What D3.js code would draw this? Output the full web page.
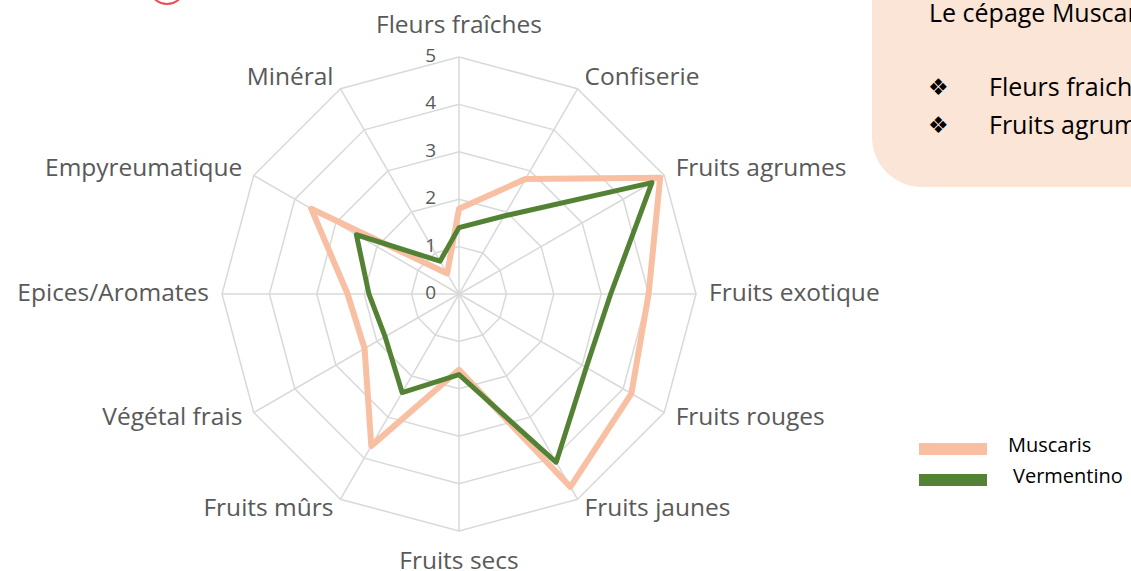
<!DOCTYPE html>
<html><head><meta charset="utf-8">
<script src="https://cdn.jsdelivr.net/npm/d3@7"></script>
<style>html,body{margin:0;padding:0;background:#fff;overflow:hidden}</style>
</head><body>
<svg id="chart" width="1131" height="571"></svg>
<script>
const axesLabels = ["Fleurs fraîches","Confiserie","Fruits agrumes","Fruits exotique","Fruits rouges","Fruits jaunes","Fruits secs","Fruits mûrs","Végétal frais","Epices/Aromates","Empyreumatique","Minéral"];
const muscaris   = [1.8, 2.8, 4.9, 4.0, 4.2, 4.7, 1.6, 3.7, 2.3, 2.35, 3.6, 0.5];
const vermentino = [1.4, 1.9, 4.7, 3.2, 3.1, 4.1, 1.7, 2.4, 1.8, 1.9, 2.5, 0.8];
const ticks = [0,1,2,3,4,5];
const seriesNames = ["Muscaris","Vermentino"];
const noteTitle = "Le cépage Muscaris";
const noteBullets = ["Fleurs fraiches","Fruits agrumes"];

const svg = d3.select("#chart");
const cx = 459, cy = 294, R = 237;
const r = d3.scaleLinear().domain([0,5]).range([0,R]);
const ang = d3.scalePoint().domain(axesLabels).range([0, 2*Math.PI*(11/12)]);
const pt = (a, v) => [cx + r(v)*Math.sin(a), cy - r(v)*Math.cos(a)];

// note box
svg.append("path")
  .attr("d", `M872,-10 L1140,-10 L1140,187 L922,187 A50,50 0 0 1 872,137 Z`)
  .attr("fill", "#fbe5d6");
svg.append("text").attr("x", 929).attr("y", 22).attr("font-family","Open Sans, sans-serif")
  .attr("font-size", 25).attr("fill","#000").text(noteTitle);
noteBullets.forEach((b,i) => {
  const y = 96 + i*38;
  svg.append("text").attr("x", 928).attr("y", y - 1).attr("font-family","DejaVu Sans, sans-serif")
    .attr("font-size", 23).attr("fill","#000").text("❖");
  svg.append("text").attr("x", 989).attr("y", y).attr("font-family","Open Sans, sans-serif")
    .attr("font-size", 25).attr("fill","#000").text(b);
});

// red circle fragment
svg.append("circle").attr("cx", 167).attr("cy", -14).attr("r", 18)
  .attr("fill","none").attr("stroke","#e8505b").attr("stroke-width",2);

// grid
const g = svg.append("g");
ticks.slice(1).forEach(t => {
  g.append("polygon")
    .attr("points", axesLabels.map(l => pt(ang(l), t).join(",")).join(" "))
    .attr("fill","none").attr("stroke","#d9d9d9").attr("stroke-width",1.5);
});
axesLabels.forEach(l => {
  const [x,y] = pt(ang(l), 5);
  g.append("line").attr("x1",cx).attr("y1",cy).attr("x2",x).attr("y2",y)
    .attr("stroke","#d9d9d9").attr("stroke-width",1.5);
});

// tick labels
ticks.forEach(t => {
  svg.append("text").attr("x", 436).attr("y", cy - r(t))
    .attr("text-anchor","end").attr("dominant-baseline","middle")
    .attr("font-family","Open Sans, sans-serif").attr("font-size",19).attr("fill","#595959").text(t);
});

// axis labels
axesLabels.forEach(l => {
  const a = ang(l);
  const s = Math.sin(a);
  let anchor = Math.abs(s) < 0.01 ? "middle" : (s > 0 ? "start" : "end");
  const rr = Math.abs(s) < 0.01 ? R + 31 : R + 12;
  const [x,y] = [cx + rr*Math.sin(a), cy - rr*Math.cos(a)];
  svg.append("text").attr("x", x + (anchor==="start"?1:anchor==="end"?-1:0)).attr("y", y)
    .attr("text-anchor", anchor).attr("dominant-baseline","middle")
    .attr("font-family","Open Sans, sans-serif").attr("font-size",24.5).attr("fill","#595959").text(l);
});

// series
const line = d3.lineRadial().angle((d,i) => ang(axesLabels[i])).radius(d => r(d)).curve(d3.curveLinearClosed);
const plot = svg.append("g").attr("transform", `translate(${cx},${cy})`);
plot.append("path").attr("d", line(muscaris)).attr("fill","none")
  .attr("stroke","#f8bfa3").attr("stroke-width",6).attr("stroke-linejoin","round");
plot.append("path").attr("d", line(vermentino)).attr("fill","none")
  .attr("stroke","#548235").attr("stroke-width",5).attr("stroke-linejoin","round");

// legend
const colors = ["#f8bfa3","#548235"];
const lg = svg.append("g");
seriesNames.forEach((n,i) => {
  lg.append("rect").attr("x", 919).attr("y", 443 + i*31).attr("width", 68).attr("height", 12).attr("fill", colors[i]);
  lg.append("text").attr("x", i===0 ? 1008 : 1013).attr("y", 447 + i*31)
    .attr("dominant-baseline","middle").attr("font-family","Open Sans, sans-serif")
    .attr("font-size",20).attr("fill","#000").text(n);
});
</script>
</body></html>
